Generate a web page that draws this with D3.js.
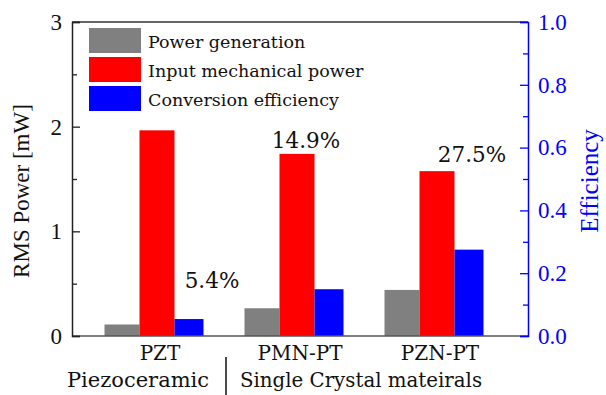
<!DOCTYPE html>
<html>
<head>
<meta charset="utf-8">
<script src="https://cdn.jsdelivr.net/npm/d3@7"></script>
<style>
  html, body { margin: 0; padding: 0; background: #fff; }
  svg text { font-family: "DejaVu Serif", serif; }
  svg .num { font-family: "Liberation Serif", "Times New Roman", serif; }
</style>
</head>
<body>
<svg id="chart" width="606" height="395"></svg>
<script>
// Materials and measured values
const materials = ["PZT", "PMN-PT", "PZN-PT"];
const powerGeneration = [0.11, 0.265, 0.44];      // mW
const inputMechanical = [1.965, 1.74, 1.575];     // mW
const efficiency = [0.054, 0.149, 0.275];         // fraction
const efficiencyLabels = ["5.4%", "14.9%", "27.5%"];
const powerTicks = [0, 1, 2, 3];
const efficiencyTicks = [0.0, 0.2, 0.4, 0.6, 0.8, 1.0];
const seriesNames = ["Power generation", "Input mechanical power", "Conversion efficiency"];
const seriesColors = ["#808080", "#ff0000", "#0000ff"];
const groupNames = ["Piezoceramic", "Single Crystal mateirals"];

const svg = d3.select("#chart");
const plotL = 72, plotR = 528, plotT = 22, plotB = 336;

// group centres sit on the red bars
const x = d3.scalePoint().domain(materials).range([157, 437]);
const yP = d3.scaleLinear().domain([0, 3]).range([plotB, plotT]);
const yE = d3.scaleLinear().domain([0, 1]).range([plotB, plotT]);

const wMain = 35, wEff = 29;

// gray bars: power generation
svg.append("g").selectAll("rect").data(materials).join("rect")
  .attr("x", d => x(d) - wMain * 1.5)
  .attr("width", wMain)
  .attr("y", (d, i) => yP(powerGeneration[i]))
  .attr("height", (d, i) => plotB - yP(powerGeneration[i]))
  .attr("fill", seriesColors[0]);

// red bars: input mechanical power
svg.append("g").selectAll("rect").data(materials).join("rect")
  .attr("x", d => x(d) - wMain * 0.5)
  .attr("width", wMain)
  .attr("y", (d, i) => yP(inputMechanical[i]))
  .attr("height", (d, i) => plotB - yP(inputMechanical[i]))
  .attr("fill", seriesColors[1]);

// blue bars: conversion efficiency (right axis)
svg.append("g").selectAll("rect").data(materials).join("rect")
  .attr("x", d => x(d) + wMain * 0.5)
  .attr("width", wEff)
  .attr("y", (d, i) => yE(efficiency[i]))
  .attr("height", (d, i) => plotB - yE(efficiency[i]))
  .attr("fill", seriesColors[2]);

// frame: top and bottom lines
svg.append("line").attr("x1", plotL).attr("x2", plotR).attr("y1", plotT).attr("y2", plotT)
  .attr("stroke", "#333").attr("stroke-width", 1.5);
svg.append("line").attr("x1", plotL).attr("x2", plotR).attr("y1", plotB).attr("y2", plotB)
  .attr("stroke", "#555").attr("stroke-width", 1.5);

// left axis (inward ticks)
const gL = svg.append("g").attr("transform", `translate(${plotL},0)`);
gL.call(d3.axisLeft(yP).tickValues(powerTicks).tickSize(-8).tickPadding(10).tickFormat(d3.format("d")));
gL.append("g").call(d3.axisLeft(yP).tickValues([0.5, 1.5, 2.5]).tickSize(-5).tickFormat(""));
gL.selectAll(".domain").attr("stroke", "#222").attr("stroke-width", 1.5);
gL.selectAll("g").select(".domain").remove();
gL.selectAll("line").attr("stroke", "#222").attr("stroke-width", 1.3);
gL.selectAll("text").attr("class", "num").attr("font-size", 23).attr("fill", "#111");

// right axis (blue, inward ticks)
const gR = svg.append("g").attr("transform", `translate(${plotR},0)`);
gR.call(d3.axisRight(yE).tickValues(efficiencyTicks).tickSize(-8).tickPadding(10).tickFormat(d3.format(".1f")));
gR.append("g").call(d3.axisRight(yE).tickValues([0.1, 0.3, 0.5, 0.7, 0.9]).tickSize(-5).tickFormat(""));
gR.selectAll(".domain").attr("stroke", "#0000ff").attr("stroke-width", 1.5);
gR.selectAll("g").select(".domain").remove();
gR.selectAll("line").attr("stroke", "#0000ff").attr("stroke-width", 1.3);
gR.selectAll("text").attr("class", "num").attr("font-size", 23).attr("fill", "#0000ff");

// axis titles
svg.append("text").attr("class", "num")
  .attr("transform", "translate(29,191) rotate(-90)")
  .attr("text-anchor", "middle").attr("font-size", 23).attr("fill", "#111")
  .text("RMS Power [mW]");
svg.append("text").attr("class", "num")
  .attr("transform", "translate(598,181) rotate(-90)")
  .attr("text-anchor", "middle").attr("font-size", 25).attr("fill", "#0000ff")
  .text("Efficiency");

// efficiency value labels
const labelPos = [
  { dx: 55, y: 288 },
  { dx: 9, y: 148 },
  { dx: 35, y: 162 }
];
svg.append("g").selectAll("text").data(materials).join("text")
  .attr("x", (d, i) => x(d) + labelPos[i].dx)
  .attr("y", (d, i) => labelPos[i].y)
  .attr("text-anchor", "middle").attr("font-size", 21.5).attr("fill", "#111")
  .text((d, i) => efficiencyLabels[i]);

// category labels
svg.append("g").selectAll("text").data(materials).join("text")
  .attr("x", d => x(d) + 3)
  .attr("y", 360)
  .attr("text-anchor", "middle").attr("font-size", 20).attr("fill", "#111")
  .text(d => d);

// group labels with divider
svg.append("text").attr("x", 138).attr("y", 387).attr("text-anchor", "middle")
  .attr("font-size", 21).attr("fill", "#111").text(groupNames[0]);
svg.append("text").attr("x", 361).attr("y", 387).attr("text-anchor", "middle")
  .attr("font-size", 19.8).attr("fill", "#111").text(groupNames[1]);
svg.append("line").attr("x1", 226).attr("x2", 226).attr("y1", 357).attr("y2", 395)
  .attr("stroke", "#111").attr("stroke-width", 1.5);

// legend
const lg = svg.append("g").attr("transform", "translate(89,28)");
seriesNames.forEach((name, i) => {
  lg.append("rect").attr("x", 0).attr("y", i * 29).attr("width", 52).attr("height", 25)
    .attr("fill", seriesColors[i]);
  lg.append("text").attr("x", 59).attr("y", i * 29 + 20)
    .attr("font-size", 17.5).attr("fill", "#111").text(name);
});
</script>
</body>
</html>
